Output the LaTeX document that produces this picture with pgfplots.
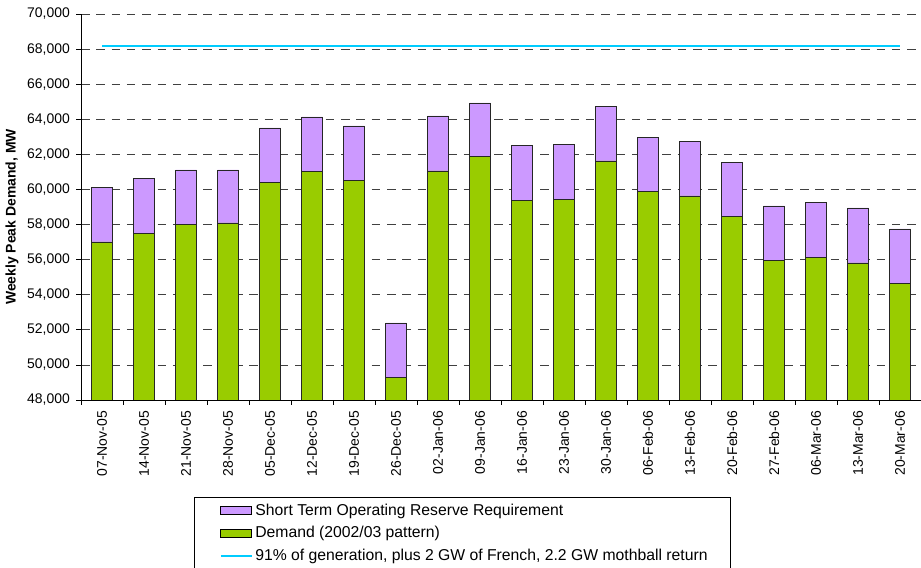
\documentclass[border=0pt]{standalone}
\usepackage{pgfplots}
\pgfplotsset{compat=1.18}
\usepackage{fontspec}
\setmainfont{Liberation Sans}

\definecolor{demandgreen}{HTML}{99CC00}
\definecolor{reservepurple}{HTML}{CC99FF}
\definecolor{capacityblue}{HTML}{00CCFF}

\begin{document}
\begin{tikzpicture}[x=1bp,y=1bp]
\path[use as bounding box] (0,0) rectangle (921,568);
\begin{axis}[
  at={(81bp,168bp)}, anchor=south west,
  scale only axis,
  width=840bp, height=386bp,
  xmin=-0.5, xmax=19.5,
  ymin=48000, ymax=70000,
  ytick={48000,50000,...,70000},
  axis lines=left,
  axis line style={-, line width=0.9bp, black},
  ymajorgrids,
  major grid style={dash pattern=on 8.5bp off 6.8bp, line width=0.8bp, black!75},
  tick align=outside,
  major tick length=5bp,
  minor tick length=5bp,
  tick style={black, line width=0.8bp},
  xtick={0,...,19},
  xticklabels={07-Nov-05,14-Nov-05,21-Nov-05,28-Nov-05,05-Dec-05,12-Dec-05,19-Dec-05,26-Dec-05,02-Jan-06,09-Jan-06,16-Jan-06,23-Jan-06,30-Jan-06,06-Feb-06,13-Feb-06,20-Feb-06,27-Feb-06,06-Mar-06,13-Mar-06,20-Mar-06},
  x tick style={draw=none},
  minor xtick={-0.5,0.5,...,19.5},
  minor x tick style={draw=black},
  xticklabel style={yshift=-6bp, rotate=90, anchor=east, inner sep=0pt, font=\fontsize{14}{16}\selectfont},
  yticklabel style={font=\fontsize{14}{16}\selectfont, inner sep=0pt, xshift=-6bp},
  scaled y ticks=false,
  /pgf/number format/.cd, 1000 sep={,}, assume math mode=true, /pgfplots/.cd,
  ylabel={\bfseries Weekly Peak Demand, MW},
  every axis y label/.style={at={(axis description cs:-0.082,0.474)}, rotate=90, anchor=center, font=\fontsize{14}{16}\selectfont},
  ybar, bar width=21bp, bar shift=0pt,
  clip=true,
  legend cell align=left,
  legend style={
    at={(axis description cs:0.1345,-0.2513)}, anchor=north west,
    draw=black, line width=0.8bp,
    font=\fontsize{15.8}{18}\selectfont,
    inner xsep=20bp, inner ysep=4bp,
    row sep=4bp,
    nodes={inner sep=2.5bp, text depth=0.22em},
  },
]
% Total of demand plus reserve requirement (upper purple segment)
\addplot[fill=reservepurple, draw=black!85, line width=0.8bp, forget plot] coordinates {
(0,60120) (1,60615) (2,61110) (3,61110) (4,63503) (5,64130) (6,63617) (7,52390)
(8,64187) (9,64928) (10,62496) (11,62553) (12,64738) (13,62952) (14,62743)
(15,61546) (16,59058) (17,59267) (18,58944) (19,57747)};
% Weekly peak demand, 2002/03 pattern
\addplot[fill=demandgreen, draw=black!85, line width=0.8bp, forget plot] coordinates {
(0,57006) (1,57500) (2,58013) (3,58089) (4,60388) (5,61014) (6,60520) (7,49275)
(8,61052) (9,61888) (10,59381) (11,59438) (12,61622) (13,59875) (14,59628)
(15,58450) (16,55961) (17,56132) (18,55809) (19,54631)};
% Available capacity
\addplot[sharp plot, capacityblue, line width=2bp, mark=none, forget plot] coordinates {
(0,68150) (1,68150) (2,68150) (3,68150) (4,68150) (5,68150) (6,68150) (7,68150)
(8,68150) (9,68150) (10,68150) (11,68150) (12,68150) (13,68150) (14,68150)
(15,68150) (16,68150) (17,68150) (18,68150) (19,68150)};

\addlegendimage{legend image code/.code={\path (-6bp,0bp); \draw[fill=reservepurple, draw=black, line width=0.8bp] (0bp,-4bp) rectangle (31bp,4bp);}}
\addlegendentry{Short Term Operating Reserve Requirement}
\addlegendimage{legend image code/.code={\path (-6bp,0bp); \draw[fill=demandgreen, draw=black, line width=0.8bp] (0bp,-4bp) rectangle (31bp,4bp);}}
\addlegendentry{Demand (2002/03 pattern)}
\addlegendimage{legend image code/.code={\path (-6bp,0bp); \draw[capacityblue, line width=2bp] (0bp,0bp) -- (31bp,0bp);}}
\addlegendentry{91\% of generation, plus 2 GW of French, 2.2 GW mothball return}
\end{axis}
\end{tikzpicture}
\end{document}
